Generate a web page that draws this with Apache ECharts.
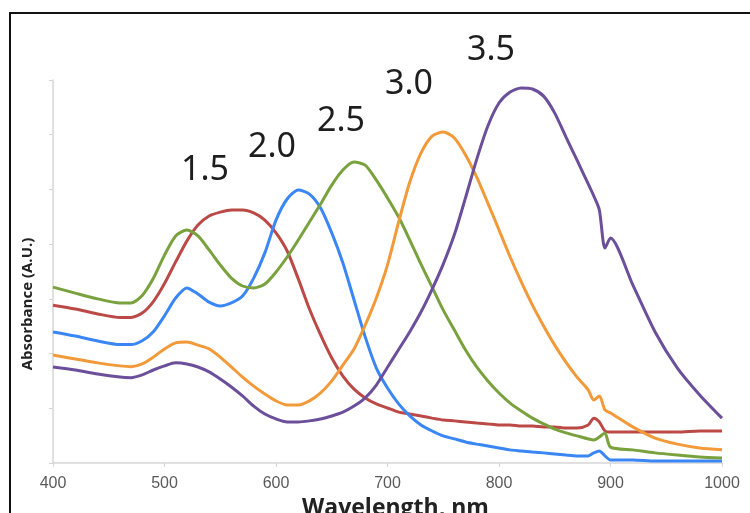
<!DOCTYPE html>
<html>
<head>
<meta charset="utf-8">
<script src="https://cdn.jsdelivr.net/npm/echarts@6/dist/echarts.min.js"></script>
<style>html,body{margin:0;padding:0;background:#fff;}#chart{width:750px;height:513px;}</style>
</head>
<body>
<div id="chart"></div>
<script>
const wavelengths = [400,420,440,460,
  470,480,490,500,510,520,530,540,550,560,
  570,580,590,600,610,620,630,640,650,660,
  670,680,690,700,710,720,730,740,750,760,
  770,780,790,800,810,820,830,840,850,860,
  870,880,885,890,895,900,920,940,960,980,1000];
const xTicks = [400,500,600,700,800,900,1000];
const seriesNames = ['1.5','2.0','2.5','3.0','3.5'];
const abs15 = [0.577,0.563,0.545,0.532,
  0.532,0.548,0.590,0.656,0.735,0.811,0.870,0.903,0.917,0.925,
  0.925,0.914,0.888,0.841,0.775,0.673,0.563,0.468,0.384,0.318,
  0.270,0.238,0.216,0.201,0.186,0.179,0.172,0.164,0.157,0.154,
  0.150,0.146,0.143,0.139,0.139,0.135,0.135,0.132,0.132,0.128,
  0.128,0.139,0.164,0.150,0.117,0.113,0.113,0.113,0.113,0.117,0.117];
const abs20 = [0.479,0.464,0.446,0.433,
  0.433,0.447,0.480,0.538,0.603,0.640,0.618,0.588,0.574,0.585,
  0.610,0.676,0.768,0.888,0.965,0.998,0.983,0.932,0.841,0.731,
  0.596,0.461,0.347,0.274,0.216,0.172,0.139,0.117,0.099,0.088,
  0.077,0.069,0.062,0.055,0.048,0.044,0.040,0.037,0.033,0.029,
  0.026,0.026,0.037,0.044,0.026,0.011,0.011,0.007,0.007,0.007,0.007];
const abs25 = [0.643,0.621,0.600,0.585,
  0.585,0.612,0.675,0.760,0.830,0.852,0.830,0.779,0.724,0.676,
  0.647,0.640,0.654,0.698,0.753,0.815,0.881,0.947,1.016,1.071,
  1.100,1.089,1.034,0.969,0.899,0.815,0.727,0.643,0.559,0.486,
  0.413,0.351,0.300,0.256,0.219,0.190,0.164,0.143,0.124,0.110,
  0.099,0.088,0.084,0.095,0.110,0.058,0.048,0.037,0.029,0.022,0.018];
const abs30 = [0.395,0.380,0.366,0.355,
  0.352,0.362,0.387,0.417,0.439,0.442,0.431,0.417,0.387,0.351,
  0.314,0.281,0.252,0.227,0.212,0.212,0.227,0.256,0.300,0.358,
  0.417,0.504,0.603,0.724,0.881,1.027,1.133,1.195,1.210,1.188,
  1.126,1.045,0.950,0.852,0.753,0.662,0.577,0.501,0.431,0.369,
  0.314,0.267,0.230,0.245,0.194,0.183,0.132,0.091,0.069,0.055,0.048];
const abs35 = [0.351,0.340,0.325,0.314,
  0.312,0.322,0.340,0.355,0.366,0.362,0.351,0.333,0.307,0.278,
  0.245,0.208,0.179,0.161,0.150,0.150,0.154,0.161,0.172,0.186,
  0.208,0.238,0.285,0.350,0.415,0.480,0.552,0.635,0.727,0.835,
  0.970,1.110,1.232,1.316,1.356,1.371,1.367,1.341,1.279,1.192,
  1.107,1.020,0.976,0.925,0.786,0.822,0.651,0.479,0.347,0.249,0.164];
const colors = ['#bb4a47','#3b86f5','#79a23e','#f29a3a','#6b4f9b'];
const allSeries = [abs15, abs20, abs25, abs30, abs35];

const chart = echarts.init(document.getElementById('chart'));
const labelPos = [[205,170],[272,147],[341,121],[409,84],[491,50]];

chart.setOption({
  animation: false,
  backgroundColor: '#ffffff',
  grid: {left: 53, right: 28, top: 80, bottom: 50, containLabel: false, outerBoundsMode: 'none'},
  xAxis: {
    type: 'value', min: 400, max: 1000, interval: 100,
    name: 'Wavelength, nm', nameLocation: 'middle', nameGap: 30,
    nameTextStyle: {fontSize: 23, fontWeight: 'bold', color: '#222', fontFamily: 'Open Sans', padding: [0, 0, 0, 16]},
    axisLine: {show: true, lineStyle: {color: '#d6d6d6', width: 1.5}},
    axisTick: {show: true, length: 4, lineStyle: {color: '#d6d6d6'}},
    axisLabel: {color: '#5a5a5a', fontSize: 16, margin: 13, fontFamily: 'Liberation Sans',
      formatter: v => xTicks.includes(v) ? String(v) : ''},
    splitLine: {show: false}
  },
  yAxis: {
    type: 'value', min: 0, max: 1.4, interval: 0.2,
    axisLine: {show: true, lineStyle: {color: '#d6d6d6', width: 1.5}},
    axisTick: {show: true, length: 4, lineStyle: {color: '#d6d6d6'}},
    axisLabel: {show: false},
    splitLine: {show: false}
  },
  series: allSeries.map((arr, k) => ({
    name: seriesNames[k],
    type: 'line',
    data: wavelengths.map((w, i) => [w, arr[i]]),
    showSymbol: false,
    smooth: 0.25,
    lineStyle: {color: colors[k], width: 3},
    itemStyle: {color: colors[k]}
  })),
  graphic: [
    {type: 'rect', shape: {x: 10, y: 13, width: 800, height: 560}, style: {fill: 'none', stroke: '#111', lineWidth: 2}, silent: true},
    {type: 'text', x: 28, y: 304, rotation: Math.PI / 2,
      style: {text: 'Absorbance (A.U.)', fontSize: 15, fontWeight: 'bold', fill: '#222', fontFamily: 'Open Sans', textAlign: 'center', textVerticalAlign: 'middle'}},
    ...seriesNames.map((n, k) => ({type: 'text', x: labelPos[k][0], y: labelPos[k][1],
      style: {text: n, fontSize: 34, fill: '#1e1e1e', fontFamily: 'Noto Sans', textAlign: 'center', textVerticalAlign: 'middle'}}))
  ]
});
</script>
</body>
</html>
